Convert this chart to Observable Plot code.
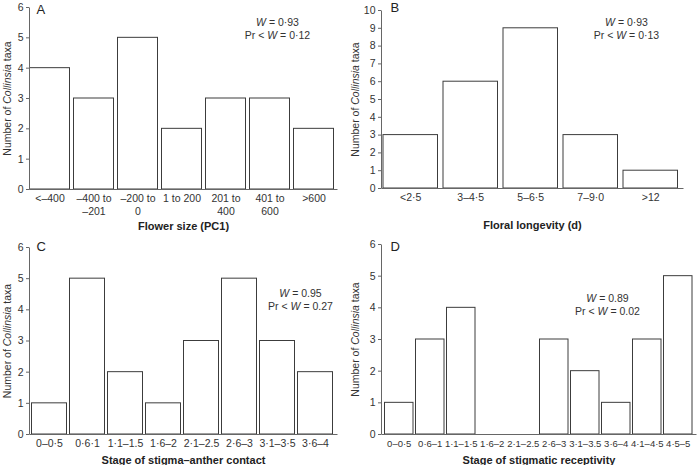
<!DOCTYPE html>
<html><head><meta charset="utf-8">
<script src="https://cdn.jsdelivr.net/npm/d3@7"></script>
<script src="https://cdn.jsdelivr.net/npm/@observablehq/plot@0.6"></script>
<style>
body{margin:0;background:#fff}
#wrap{position:relative;width:697px;height:465px;overflow:hidden;background:#fff}
.panel{position:absolute}
.panel svg{overflow:visible}
</style></head><body><div id="wrap"></div>
<script>
// ---- data ----
const aCats = ["<–400","–400 to\n–201","–200 to\n0","1 to 200","201 to\n400","401 to\n600",">600"];
const aCounts = [4,3,5,2,3,3,2];
const bCats = ["<2·5","3–4·5","5–6·5","7–9·0",">12"];
const bCounts = [3,6,9,3,1];
const cCats = ["0–0·5","0·6·1","1·1–1.5","1·6–2","2·1–2.5","2·6–3","3·1–3·5","3·6–4"];
const cCounts = [1,5,2,1,3,5,3,2];
const dCats = ["0–0·5","0·6–1","1·1–1·5","1·6–2","2·1–2.5","2·6–3","3·1–3.5","3·6–4","4·1–4·5","4·5–5"];
const dCounts = [1,3,4,0,0,3,2,1,3,5];
const yTitle = "Number of Collinsia taxa";
const xTitles = ["Flower size (PC1)","Floral longevity (d)","Stage of stigma–anther contact","Stage of stigmatic receptivity"];
const letters = ["A","B","C","D"];
const stats = ["W = 0·93\nPr < W = 0·12","W = 0·93\nPr < W = 0·13","W = 0.95\nPr < W = 0.27","W = 0.89\nPr < W = 0.02"];
const yMax = [6,10,6,6];

// ---- layout ----
const layouts = [
  {left:0,   top:0,   w:348, h:232, ml:29, mr:11, mt:7,  mb:43, ytx:-22, lx:7, ly:-3, sdx:94,   sdy:9.5,  xty:37, tfs:10.5, il:0.5, ir:3.5},
  {left:348, top:0,   w:349, h:232, ml:33, mr:14, mt:10, mb:44, ytx:-26, lx:9, ly:-8, sdx:94,   sdy:6.5,  xty:37, tfs:10.5, il:1,   ir:4.5},
  {left:0,   top:232, w:348, h:233, ml:29, mr:11, mt:15, mb:31, ytx:-22, lx:7, ly:-6, sdx:117,  sdy:41,   xty:26, tfs:10.5, il:0.5, ir:2.5},
  {left:348, top:232, w:349, h:233, ml:33, mr:1,  mt:12, mb:31, ytx:-26, lx:9, ly:-3, sdx:68.5, sdy:48.5, xty:26, tfs:9.5,  il:0.5, ir:2}
];
const allCats = [aCats,bCats,cCats,dCats];
const allCounts = [aCounts,bCounts,cCounts,dCounts];

function italicize(svg){
  d3.select(svg).selectAll("text, tspan").each(function(){
    if (this.children.length) return;
    const t = this.textContent;
    if (!/Collinsia|\bW\b/.test(t)) return;
    const parts = t.split(/(Collinsia|\bW\b)/);
    this.textContent = "";
    for (const s of parts){
      if (!s) continue;
      const ts = document.createElementNS("http://www.w3.org/2000/svg","tspan");
      ts.textContent = s;
      if (s === "Collinsia" || s === "W") ts.setAttribute("font-style","italic");
      this.appendChild(ts);
    }
  });
}

const wrap = document.getElementById("wrap");
layouts.forEach((L,i)=>{
  const cats = allCats[i], counts = allCounts[i];
  const data = cats.map((c,j)=>({cat:c, count:counts[j]}));
  const fw = L.w - L.ml - L.mr, fh = L.h - L.mt - L.mb;
  const p = Plot.plot({
    width:L.w, height:L.h,
    marginLeft:L.ml, marginRight:L.mr, marginTop:L.mt, marginBottom:L.mb,
    style:{fontFamily:"'Liberation Sans', Arial, Helvetica, sans-serif", fontSize:"10.5px", color:"#333", background:"transparent", overflow:"visible"},
    x:{domain:cats, padding:0, axis:null},
    y:{domain:[0,yMax[i]], axis:null},
    marks:[
      Plot.barY(data,{x:"cat", y:"count", fill:"white", stroke:"#3c3c3c", strokeWidth:1, insetLeft:L.il, insetRight:L.ir, filter:d=>d.count>0}),
      // left + bottom axis lines (L-shaped frame)
      Plot.frame({stroke:"#666", strokeDasharray:`0 ${fw+fh} ${fw+fh}`}),
      Plot.axisY({ticks:d3.range(0,yMax[i]+1), tickFormat:d3.format("d"), tickSize:3, tickPadding:3, label:null, stroke:"#666"}),
      Plot.axisX({tickSize:0, tickPadding:4, label:null, fontSize:L.tfs, lineHeight:1.2, dx:(L.il-L.ir)/2}),
      Plot.text([yTitle],{frameAnchor:"left", rotate:-90, dx:L.ytx, textAnchor:"middle", lineAnchor:"middle", fill:"#333"}),
      Plot.text([xTitles[i]],{frameAnchor:"bottom", dy:L.xty, textAnchor:"middle", lineAnchor:"middle", fontWeight:"bold", fontSize:11, fill:"#222"}),
      Plot.text([letters[i]],{frameAnchor:"top-left", dx:L.lx, dy:L.ly, textAnchor:"start", lineAnchor:"top", fontSize:13, fill:"#222"}),
      Plot.text([stats[i]],{frameAnchor:"top", dx:L.sdx, dy:L.sdy, textAnchor:"middle", lineAnchor:"top", lineHeight:1.2, fill:"#333"})
    ]
  });
  italicize(p);
  const div = document.createElement("div");
  div.className = "panel";
  div.style.left = L.left + "px";
  div.style.top = L.top + "px";
  div.appendChild(p);
  wrap.appendChild(div);
});
</script>
</body></html>
